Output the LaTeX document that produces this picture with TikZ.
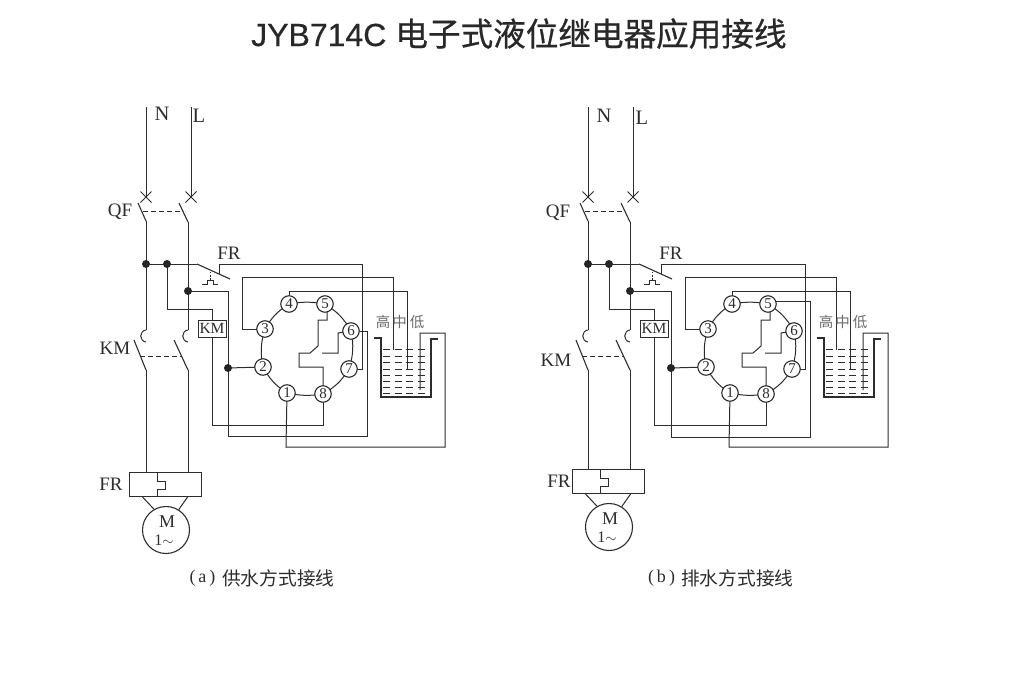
\documentclass[tikz,border=0pt]{standalone}
\usepackage{fontspec}
\setmainfont{Liberation Serif}
\newfontfamily\titlefont[FakeBold=0.5]{Liberation Sans}
\newfontfamily\cjk{Noto Sans CJK SC}
\newfontfamily\cjkbold[FakeBold=0.6]{Noto Sans CJK SC}
\usetikzlibrary{shapes.misc}
\pgfdeclarelayer{under}
\pgfsetlayers{under,main}
\definecolor{ink}{HTML}{2c2c2c}
\tikzset{
  wire/.style={draw=ink,line width=1pt},
  bladeline/.style={draw=ink,line width=1.1pt},
  linkdash/.style={draw=ink,line width=1pt,dash pattern=on 5pt off 3pt},
  tankwall/.style={draw=ink,line width=2pt},
  water/.style={draw=ink,line width=1pt,dash pattern=on 7pt off 4.5pt},
  pin/.style={circle,draw=ink,line width=1.1pt,fill=white,minimum size=16.5pt,inner sep=0pt,text=ink,font=\fontsize{15}{15}\selectfont},
  joint/.style={circle,fill=ink!85!black,minimum size=8pt,inner sep=0pt},
  breakx/.style={cross out,draw=ink,line width=1pt,minimum size=10pt,inner sep=0pt},
  lab/.style={text=ink,inner sep=0pt,font=\fontsize{19}{20}\selectfont},
  biglab/.style={text=ink,inner sep=0pt,font=\fontsize{20.5}{21}\selectfont},
  kmbox/.style={rectangle,draw=ink,line width=0.9pt,fill=white,minimum width=28pt,minimum height=17pt,inner sep=0pt,text=ink,font=\fontsize{15.5}{15}\selectfont},
  frbox/.style={rectangle,draw=ink,line width=0.9pt,minimum width=72pt,minimum height=24pt,inner sep=0pt},
  motor/.style={circle,draw=ink,line width=1.1pt,minimum size=47pt,inner sep=0pt},
  level/.style={text=ink!70,inner sep=0pt,font=\cjk\fontsize{14.5}{15}\selectfont},
  caption/.style={text=ink,inner sep=0pt,font=\fontsize{18}{18}\selectfont},
}
% #1: horizontal offset of the mains column relative to the relay part
\newcommand\relaycircuit[1]{%
  \begin{scope}[shift={(#1,0)}]
  % mains
  \node[breakx] (xn) at (146,197) {};
  \node[breakx] (xl) at (191,197) {};
  \coordinate (ntop) at (146,107);
  \coordinate (ltop) at (191,107);
  \draw[wire] (ntop) -- (xn.center);
  \draw[wire] (ltop) -- (xl.center);
  % QF blades
  \coordinate (qa) at (138,203); \coordinate (qb) at (146,221);
  \coordinate (qc) at (179,203); \coordinate (qd) at (188,222);
  \draw[bladeline] (qa) -- (qb);
  \draw[bladeline] (qc) -- (qd);
  \coordinate (qla) at (143,211); \coordinate (qlb) at (183,211);
  \draw[linkdash] (qla) -- (qlb);
  % KM contacts
  \coordinate (ka) at (146,330); \coordinate (kb) at (146,342);
  \coordinate (kc) at (188,330); \coordinate (kd) at (188,342);
  \draw[wire] (qb) -- (ka);
  \draw[wire] (qd) -- (kc);
  \draw[wire] (ka) .. controls (139,331) and (139,341) .. (kb);
  \draw[wire] (kc) .. controls (181,331) and (181,341) .. (kd);
  \coordinate (ke) at (134,340); \coordinate (kf) at (146,370);
  \coordinate (kg) at (174,340); \coordinate (kh) at (188,370);
  \draw[bladeline] (ke) -- (kf);
  \draw[bladeline] (kg) -- (kh);
  \coordinate (kla) at (140,356); \coordinate (klb) at (181,356);
  \draw[linkdash] (kla) -- (klb);
  % junctions
  \node[joint] (d1) at (146,264) {};
  \node[joint] (d2) at (167,264) {};
  \node[joint] (d3) at (188,291) {};
  \coordinate (d2b) at (167,309);
  % thermal contact
  \coordinate (fa) at (197,264); \coordinate (fb) at (230,279);
  \coordinate (fc) at (219,274);
  \draw[wire] (d1.center) -- (fa);
  \draw[bladeline] (fa) -- (fb);
  \draw[wire] (202,284) -- (207,284) -- (207,280) -- (213,280) -- (213,284) -- (218,284);
  \draw[draw=ink,line width=0.9pt,dash pattern=on 2pt off 1.5pt] (210,280) -- (210,272);
  \node[lab,anchor=base] at (229,259) {FR};
  \coordinate (fd) at (219,264);
  \node[kmbox] (km) at (212,328.5) {KM};
  \end{scope}
  \node[joint] (d4) at (228,368) {};
  % relay socket
  \node[pin] (p1) at (287,393) {1};
  \node[pin] (p2) at (263,367) {2};
  \node[pin] (p3) at (265,329) {3};
  \node[pin] (p4) at (289,304) {4};
  \node[pin] (p5) at (325,304) {5};
  \node[pin] (p6) at (351,331) {6};
  \node[pin] (p7) at (349,369) {7};
  \node[pin] (p8) at (323,394) {8};
  \begin{pgfonlayer}{under}
  \draw[wire] (p1.center) to[bend left=14] (p2.center) to[bend left=14] (p3.center) to[bend left=14] (p4.center)
     to[bend left=10] (p5.center) to[bend left=14] (p6.center) to[bend left=14] (p7.center) to[bend left=14] (p8.center)
     to[bend left=10] (p1.center);
  % internal contacts
  \draw[wire] (p5.center) -- (327,304) -- (327,320) -- (318,320) -- (318,346) -- (310,353) -- (299,353) -- (299,367) -- (323,367) -- (p8.center);
  \draw[wire] (322,353) -- (338,353) -- (338,333) -- (p6.center);
  % KM coil
  \draw[wire] (d2.center) -- (d2b) -- (d2b -| km.north) -- (km.north);
  \draw[wire] (km.south) -- (km.south |- 0,425) -- (323,425) -- (p8.center);
  % main control wires
  \draw[wire] (d3.center) -- (d3.center -| d4) -- (d4.center);
  \draw[wire] (d4.center) -- (p2.center);
  \draw[wire] (fd) -- (fc);
  \draw[wire] (fd) -- (362,264) -- (362,369) -- (p7.center);
  \draw[wire] (p3.center) -- (242,329) -- (242,277) -- (393,277) -- (393,350);
  \draw[wire] (p4.center) -- (289,291) -- (407,291) -- (407,369);
  \draw[wire] (p1.center) -- (286,447) -- (445,447) -- (445,333) -- (420,333) -- (420,390);
  \end{pgfonlayer}
  % tank
  \draw[tankwall] (374,338) -- (381,338) -- (381,397) -- (431,397) -- (431,339) -- (438,339);
  \foreach \yy in {349,356,362,369,375,381,387,393}
    \draw[water] (383,\yy) -- (427,\yy);
  \node[level] at (383,322) {高};
  \node[level] at (399.5,322) {中};
  \node[level] at (417,322) {低};
}
\newcommand\motorpart{%
  \node[frbox] (fr) at (165,484) {};
  \draw[wire] (kf) -- (kf |- fr.north);
  \draw[wire] (kh) -- (kh |- fr.north);
  \draw[wire] (fr.north -| 157,0) -- (157,481) -- (165,481) -- (165,489) -- (157,489) -- (fr.south -| 157,0);
  \node[motor] (mo) at (166,530) {};
  \draw[wire] (fr.south -| 142,0) -- (mo.120);
  \draw[wire] (fr.south -| 188,0) -- (mo.58);
  \node[lab,font=\fontsize{18}{18}\selectfont] at (167,522) {M};
  \node[lab,font=\fontsize{16}{16}\selectfont] at (164,540) {1{\fontsize{14}{14}\selectfont$\sim$}};
}
\begin{document}
\begin{tikzpicture}[x=1pt,y=-1pt]
\useasboundingbox (0,0) rectangle (1009,696);
\node[inner sep=0pt,anchor=base west,text=ink!90!black] at (251,46)
  {\titlefont\fontsize{32}{32}\selectfont JYB714C\hspace{9pt}\cjkbold\fontsize{32.6}{33}\selectfont 电子式液位继电器应用接线};
% ---- circuit (a)
\begin{scope}[name prefix=a-]
  \relaycircuit{0}
  \motorpart
  \node[biglab] at (162,114) {N};
  \node[biglab] at (199,116) {L};
  \node[lab] at (120,212) {QF};
  \node[lab] at (115,348) {KM};
  \node[lab] at (111,484) {FR};
  \begin{pgfonlayer}{under}
  \draw[wire] (p6.center) -- (367,331) -- (367,436) -- (228,436) -- (d4.center);
  \end{pgfonlayer}
\end{scope}
\node[caption] at (202.5,578) {(\,a\,)};
\node[caption,font=\cjk\fontsize{18.7}{19}\selectfont,anchor=west] at (222,578) {供水方式接线};
% ---- circuit (b)
\begin{scope}[name prefix=b-,shift={(443,0)}]
  \relaycircuit{-1}
  \begin{scope}[shift={(0,-3)}]
    \motorpart
  \end{scope}
  \node[biglab] at (161,116) {N};
  \node[biglab] at (199,118) {L};
  \node[lab] at (115,213) {QF};
  \node[lab] at (113,360) {KM};
  \node[lab] at (116,481) {FR};
  \begin{pgfonlayer}{under}
  \draw[wire] (p5.center) ++(0,-3) -- (367,301) -- (367,437) -- (228,437) -- (d4.center);
  \end{pgfonlayer}
\end{scope}
\node[caption] at (661.5,578) {(\,b\,)};
\node[caption,font=\cjk\fontsize{18.7}{19}\selectfont,anchor=west] at (681,578) {排水方式接线};
\end{tikzpicture}
\end{document}
